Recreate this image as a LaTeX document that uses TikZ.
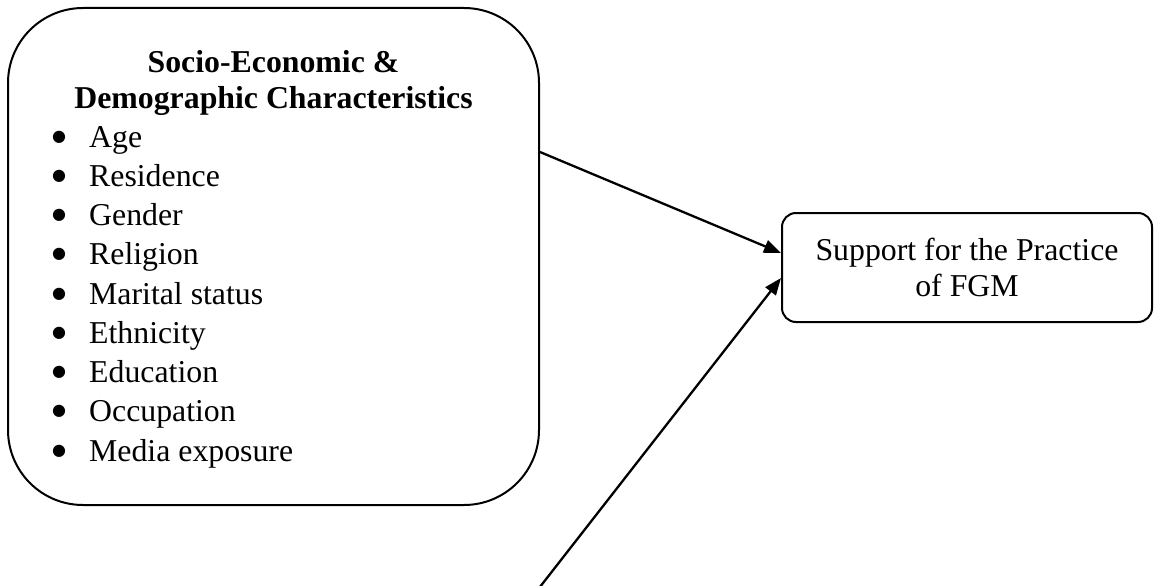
\documentclass[tikz,border=0pt]{standalone}
\usepackage{fontspec}
\setmainfont{Liberation Serif}
\newfontfamily\dejavu{DejaVu Sans}
\usetikzlibrary{arrows.meta,calc}
\tikzset{
  boxline/.style={draw=black, line width=2pt},
  bigbox/.style={boxline, rounded corners=75pt, minimum width=531pt, minimum height=497pt, inner sep=0pt},
  smallbox/.style={boxline, rounded corners=14pt, minimum width=370pt, minimum height=109pt, inner sep=0pt, align=center,
     font=\fontsize{31.8}{36}\selectfont},
  titletext/.style={anchor=base, font=\fontsize{31.8}{36}\selectfont\bfseries, inner sep=0pt},
  itemtext/.style={anchor=base west, font=\fontsize{31.8}{36}\selectfont, inner sep=0pt},
  bullettext/.style={anchor=center, font=\dejavu\fontsize{16}{16}\selectfont, inner sep=0pt},
  arr/.style={draw=black, line width=2.3pt, -{Triangle[length=17pt,width=13pt]}}
}
\begin{document}
\begin{tikzpicture}[x=1pt,y=-1pt]
\clip (0,0) rectangle (1154,586);
\fill[white] (0,0) rectangle (1154,586);
\node[bigbox] (socio) at (273.5,256.5) {};
\node[titletext] (t1) at (273.5,73) {Socio-Economic \&};
\node[titletext] (t2) at (273.5,108) {Demographic Characteristics};
\foreach \lbl [count=\i] in {Age,Residence,Gender,Religion,Marital status,Ethnicity,Education,Occupation,Media exposure}{
  \pgfmathsetmacro{\yy}{147+39.25*(\i-1)}
  \node[bullettext] (b\i) at (59,\yy-10) {●};
  \node[itemtext] (i\i) at (89,\yy) {\lbl};
}
\node[smallbox] (fgm) at (967,267.5) {Support for the Practice\\of FGM};
\coordinate (start2) at (529,601);
\draw[arr] ([yshift=104.5pt]socio.east) -- ([yshift=14.5pt]fgm.west);
\draw[arr] (start2) -- ([yshift=-10.5pt]fgm.west);
\end{tikzpicture}
\end{document}
